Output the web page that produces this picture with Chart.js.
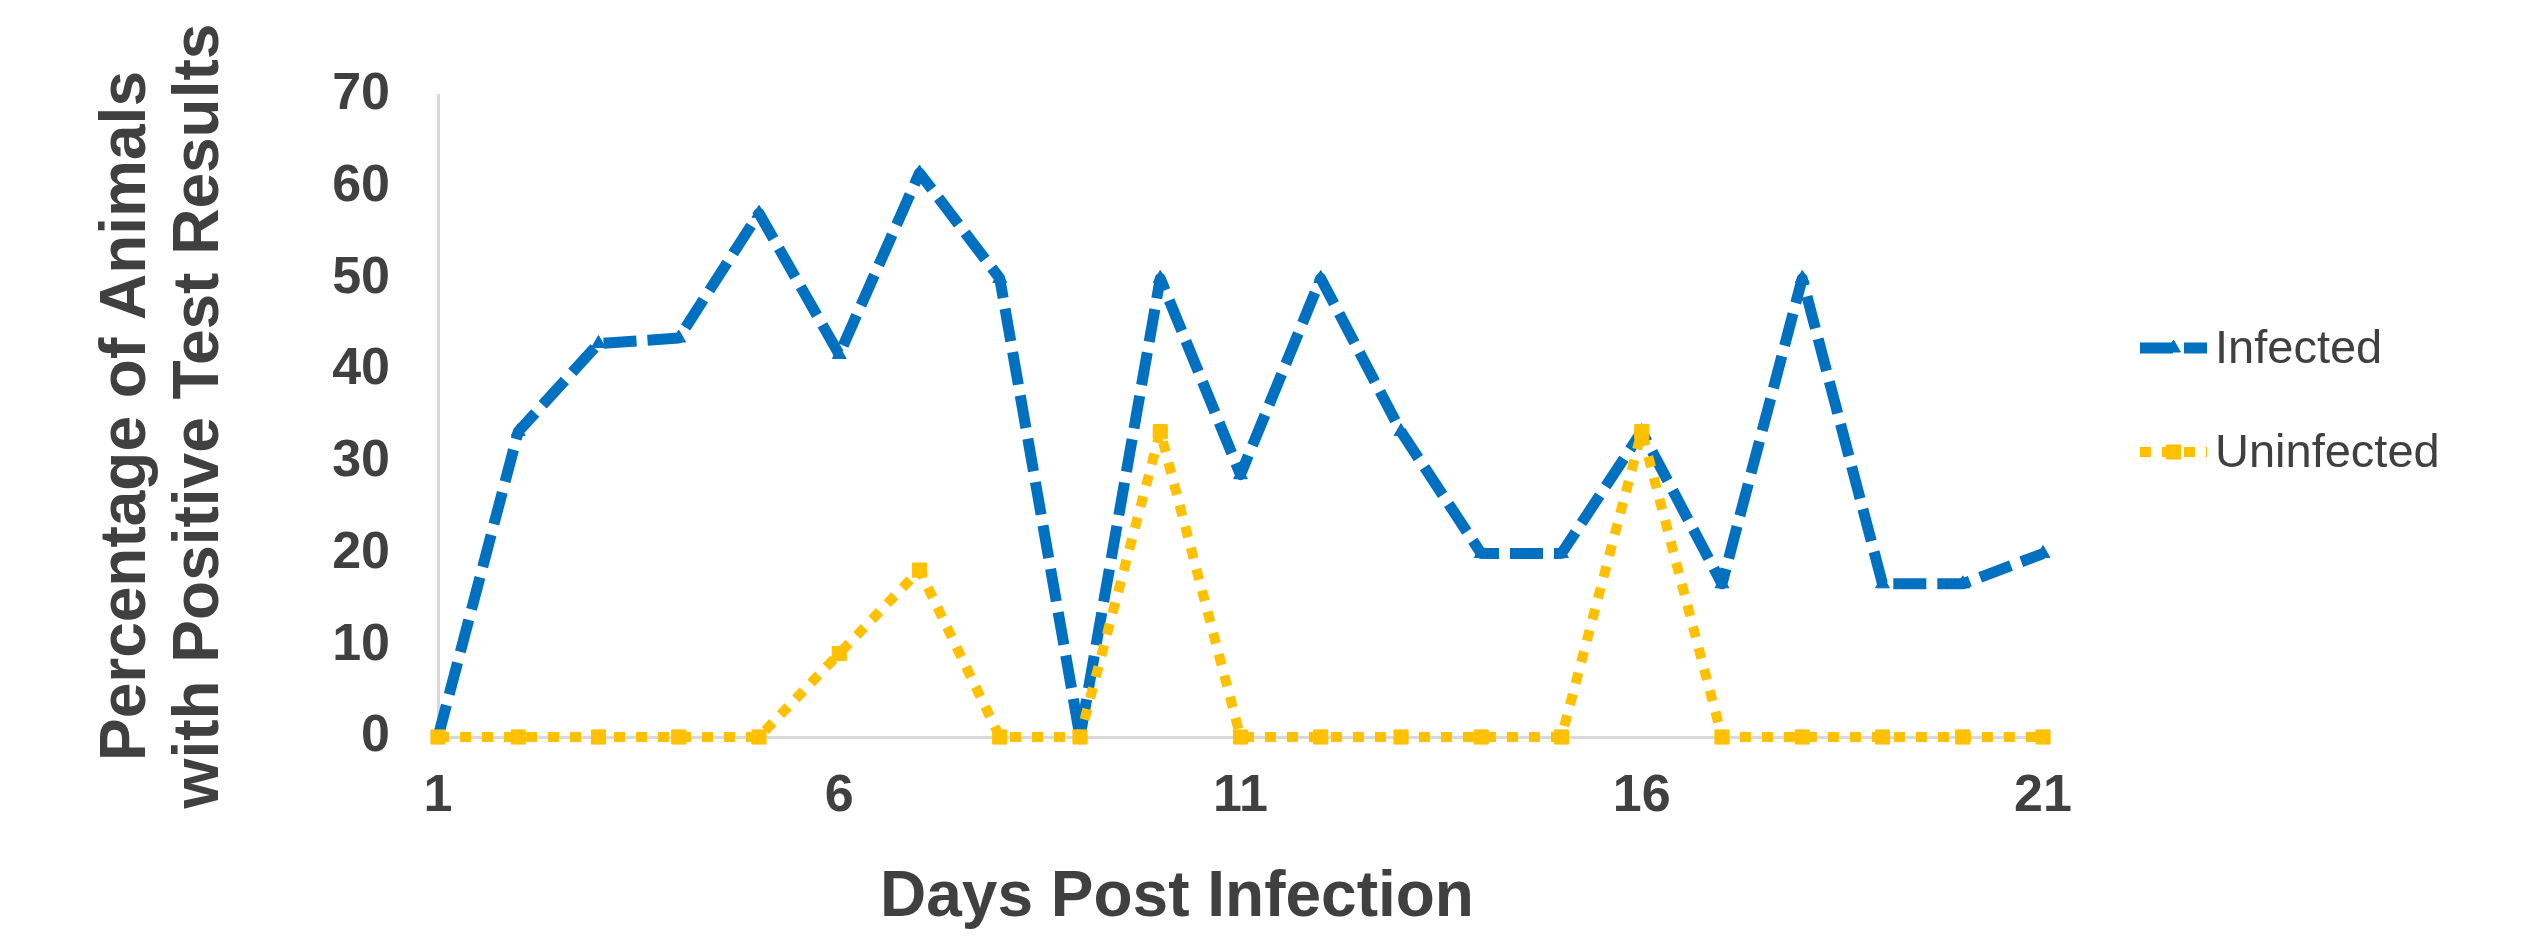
<!DOCTYPE html>
<html>
<head>
<meta charset="utf-8">
<script src="https://cdn.jsdelivr.net/npm/chart.js@4.4.0/dist/chart.umd.min.js"></script>
<style>
  html, body { margin: 0; padding: 0; background: #ffffff; }
  #lineChart { display: block; }
</style>
</head>
<body>
<canvas id="lineChart" width="2528" height="936"></canvas>
<script>
// data
const days = ['1', '2', '3', '4', '5', '6', '7', '8', '9', '10', '11',
              '12', '13', '14', '15', '16', '17', '18', '19', '20', '21'];
const infected = [0, 33.3, 42.9, 43.5, 57.1, 41.7, 61.5, 50, 0, 50, 28.6,
                  50, 33.3, 20, 20, 33.3, 16.7, 50, 16.7, 16.7, 20];
const uninfected = [0, 0, 0, 0, 0, 9.1, 18.2, 0, 0, 33.3, 0,
                    0, 0, 0, 0, 33.3, 0, 0, 0, 0, 0];
const seriesNames = ['Infected', 'Uninfected'];
const yMin = 0, yMax = 70, yStep = 10;
const xTitle = 'Days Post Infection';
const yTitle = ['Percentage of Animals', 'with Positive Test Results'];

const FONT = '"Liberation Sans", Arial, sans-serif';
const TEXT = '#404040';
const AXIS = '#d9d9d9';

// legend on the right: dashed sample with the marker in the middle
const sideLegend = {
  id: 'sideLegend',
  afterDraw(chart) {
    const ctx = chart.ctx;
    const rows = [348, 452];
    const x0 = 2140, x1 = 2207;
    chart.data.datasets.forEach((ds, i) => {
      const y = rows[i];
      ctx.save();
      ctx.strokeStyle = ds.borderColor;
      ctx.lineWidth = ds.borderWidth;
      ctx.setLineDash(ds.borderDash);
      ctx.beginPath();
      ctx.moveTo(x0, y);
      ctx.lineTo(x1, y);
      ctx.stroke();
      ctx.setLineDash([]);
      ctx.fillStyle = ds.pointBackgroundColor;
      ctx.strokeStyle = ds.pointBorderColor;
      ctx.lineWidth = 1;
      Chart.helpers.drawPoint(ctx, {pointStyle: ds.pointStyle, radius: ds.pointRadius, rotation: 0, borderWidth: 1}, (x0 + x1) / 2, y);
      ctx.fillStyle = TEXT;
      ctx.font = '47px ' + FONT;
      ctx.textAlign = 'left';
      ctx.textBaseline = 'middle';
      ctx.fillText(ds.label, 2215, y + 2);
      ctx.restore();
    });
  }
};

// x axis title sits a bit left of the plot centre in the original
const xAxisTitle = {
  id: 'xAxisTitle',
  afterDraw(chart) {
    const ctx = chart.ctx;
    ctx.save();
    ctx.fillStyle = TEXT;
    ctx.font = 'bold 64px ' + FONT;
    ctx.textAlign = 'center';
    ctx.textBaseline = 'middle';
    ctx.fillText(xTitle, 1177, 898);
    ctx.restore();
  }
};

const ctx = document.getElementById('lineChart').getContext('2d');
const myChart = new Chart(ctx, {
  type: 'line',
  data: {
    labels: days,
    datasets: [{
      label: seriesNames[0],
      data: infected,
      borderColor: '#0070C0',
      backgroundColor: '#0070C0',
      borderWidth: 11,
      borderDash: [33, 11],
      borderJoinStyle: 'round',
      tension: 0,
      pointStyle: 'triangle',
      pointRadius: 8,
      pointBackgroundColor: '#0070C0',
      pointBorderColor: '#0070C0',
      pointBorderWidth: 1,
      order: 2,
      clip: false
    }, {
      label: seriesNames[1],
      data: uninfected,
      borderColor: '#FFC000',
      backgroundColor: '#FFC000',
      borderWidth: 10,
      borderDash: [11, 11],
      borderJoinStyle: 'round',
      tension: 0,
      pointStyle: 'rect',
      pointRadius: 10,
      pointBackgroundColor: '#FFC000',
      pointBorderColor: '#FFC000',
      pointBorderWidth: 1,
      order: 1,
      clip: false
    }]
  },
  options: {
    responsive: false,
    animation: false,
    layout: { padding: { left: 0, right: 485, top: 95, bottom: 0 } },
    plugins: {
      legend: { display: false },
      tooltip: { enabled: false }
    },
    scales: {
      x: {
        offset: false,
        grid: { display: false, drawTicks: false },
        border: { display: true, color: AXIS, width: 3 },
        ticks: {
          autoSkip: false,
          maxRotation: 0,
          padding: 28,
          color: TEXT,
          font: { family: FONT, size: 52, weight: 'bold' },
          callback(value, index) {
            return index % 5 === 0 ? this.getLabelForValue(value) : '';
          }
        },
        afterFit(scale) { scale.height = 936 - 737; }
      },
      y: {
        min: yMin,
        max: yMax,
        grid: { display: false, drawTicks: false },
        border: { display: true, color: AXIS, width: 3 },
        ticks: {
          stepSize: yStep,
          padding: 48,
          color: TEXT,
          font: { family: FONT, size: 52, weight: 'bold' }
        },
        title: {
          display: true,
          text: yTitle,
          color: TEXT,
          font: { family: FONT, size: 64, weight: 'bold', lineHeight: 1.14 },
          padding: { top: 91, bottom: 0 }
        },
        afterFit(scale) { scale.width = 438; }
      }
    }
  },
  plugins: [sideLegend, xAxisTitle]
});
</script>
</body>
</html>
